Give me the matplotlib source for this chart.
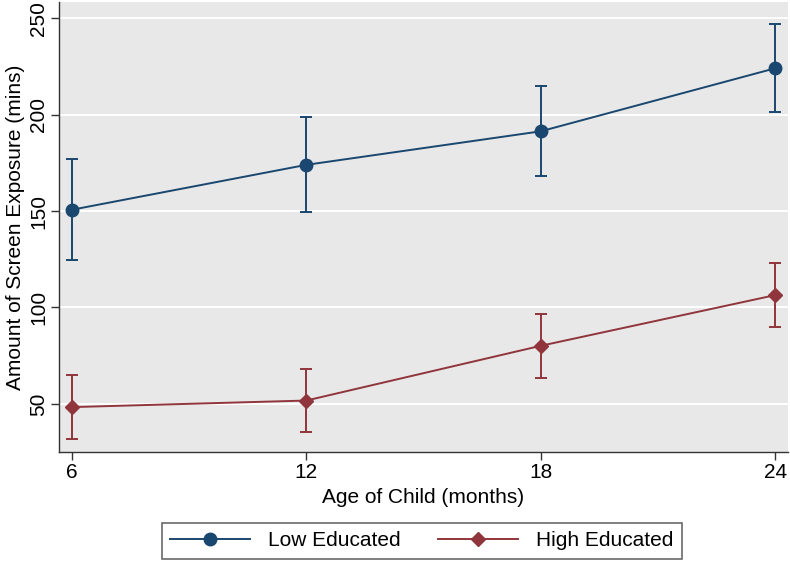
import matplotlib
matplotlib.use("Agg")
import matplotlib.pyplot as plt

plt.rcParams['font.family'] = ['Liberation Sans', 'DejaVu Sans']

# values
ages = [6, 12, 18, 24]
low_mean = [150.7, 174.0, 191.4, 224.1]
low_lo = [124.6, 149.5, 168.0, 201.5]
low_hi = [177.0, 199.0, 214.8, 246.9]
high_mean = [48.3, 51.7, 80.1, 106.4]
high_lo = [31.5, 35.3, 63.3, 89.8]
high_hi = [65.0, 68.1, 96.8, 123.1]
yticks = [50, 100, 150, 200, 250]

navy = '#1a476f'
maroon = '#90353b'

fig = plt.figure(figsize=(7.9, 5.62), dpi=100)
ax = fig.add_axes([59 / 790, 1 - 452 / 562, 729 / 790, 450 / 562])
ax.set_facecolor('#e8e8e8')


def draw(mean, lo, hi, color, marker, ms, label):
    err = [[m - l for m, l in zip(mean, lo)], [h - m for m, h in zip(mean, hi)]]
    ax.errorbar(ages, mean, yerr=err, fmt='none', ecolor=color,
                elinewidth=1.4, capsize=4, capthick=1.4, zorder=3)
    ax.plot(ages, mean, color=color, lw=1.4, marker=marker, ms=ms,
            label=label, zorder=4)


draw(low_mean, low_lo, low_hi, navy, 'o', 9, 'Low Educated')
draw(high_mean, high_lo, high_hi, maroon, 'D', 7.5, 'High Educated')

ax.set_xlim(5.67, 24.33)
ax.set_ylim(25, 258.5)
ax.set_xticks(ages)
ax.set_yticks(yticks)
ax.yaxis.grid(True, color='white', lw=1.4)
ax.set_axisbelow(True)
for s in ['top', 'right']:
    ax.spines[s].set_visible(False)
for s in ['left', 'bottom']:
    ax.spines[s].set_color('#333333')
    ax.spines[s].set_linewidth(1.0)
ax.tick_params(axis='both', colors='#333333', labelcolor='black',
               labelsize=15, length=6, width=1.0, pad=2)
plt.setp(ax.get_yticklabels(), rotation=90, va='center')

ax.set_xlabel('Age of Child (months)', fontsize=15, labelpad=4)
ax.set_ylabel('Amount of Screen Exposure (mins)', fontsize=15, labelpad=3)

leg = fig.legend(loc='center', bbox_to_anchor=(422 / 790, 1 - 541 / 562),
                 ncol=2, fontsize=15, frameon=True, fancybox=False,
                 edgecolor='#444444', handlelength=3.8, columnspacing=1.8,
                 borderpad=0.4, handletextpad=0.9)
leg.get_frame().set_linewidth(1.2)

fig.savefig('out.png', dpi=100)
